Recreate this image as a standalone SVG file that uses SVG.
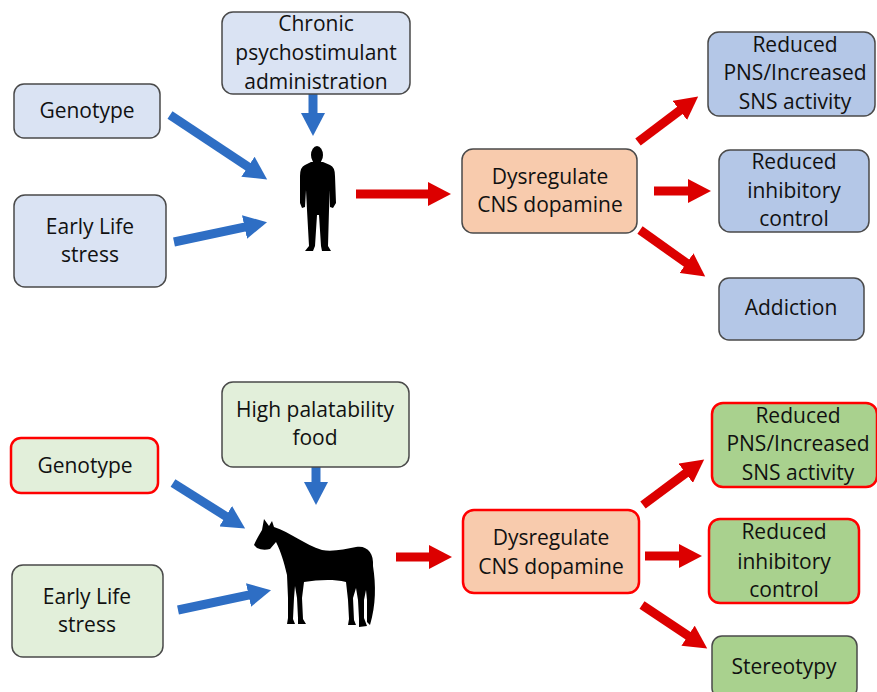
<svg xmlns="http://www.w3.org/2000/svg" width="877" height="692" viewBox="0 0 877 692">
<defs>
<style>
.t{font-family:"Open Sans","Liberation Sans",sans-serif;font-size:21px;fill:#111;text-anchor:middle}
.b{stroke:#4a4a4a;stroke-width:1.5}
.r{stroke:#ff0000;stroke-width:2.5}
.lb{fill:#dae3f3}
.pe{fill:#f8cbad}
.mb{fill:#b4c7e7}
.lg{fill:#e2efda}
.mg{fill:#a9d18e}
.ab{stroke:#2e6ec4;stroke-width:9;fill:none;marker-end:url(#hb)}
.ar{stroke:#dc0000;stroke-width:9;fill:none;marker-end:url(#hr)}
</style>
<marker id="hb" markerUnits="userSpaceOnUse" markerWidth="24" markerHeight="24" refX="1" refY="12" orient="auto"><path d="M0,0 L23,12 L0,24 Z" fill="#2e6ec4"/></marker>
<marker id="hr" markerUnits="userSpaceOnUse" markerWidth="24" markerHeight="24" refX="1" refY="12" orient="auto"><path d="M0,0 L23,12 L0,24 Z" fill="#dc0000"/></marker>
</defs>
<rect width="877" height="692" fill="#fff"/>

<g id="connectors">
<line class="ab" x1="170" y1="115" x2="248.8" y2="167.3"/>
<line class="ab" x1="174" y1="242" x2="245.5" y2="226.8"/>
<line class="ab" x1="313" y1="94" x2="313" y2="114"/>
<line class="ar" x1="356" y1="194" x2="429" y2="194"/>
<line class="ar" x1="638" y1="142" x2="680.6" y2="109.8"/>
<line class="ar" x1="654" y1="191" x2="689" y2="191"/>
<line class="ar" x1="640" y1="230" x2="687.3" y2="263.7"/>
<line class="ab" x1="173" y1="483" x2="226.5" y2="516.7"/>
<line class="ab" x1="178" y1="610" x2="249.5" y2="594.8"/>
<line class="ab" x1="316" y1="466" x2="316" y2="483"/>
<line class="ar" x1="396" y1="557" x2="430" y2="557"/>
<line class="ar" x1="643" y1="505" x2="686.5" y2="472.7"/>
<line class="ar" x1="645" y1="556" x2="680" y2="556"/>
<line class="ar" x1="642" y1="605" x2="688.9" y2="636.2"/>
</g>

<g id="genotype-top"><rect class="lb b" x="14" y="84" width="146" height="54" rx="10"/><text class="t" x="87" y="118">Genotype</text></g>
<g id="earlylife-top"><rect class="lb b" x="14" y="195" width="152" height="92" rx="11"/><text class="t" x="90" y="234">Early Life</text><text class="t" x="90" y="262">stress</text></g>
<g id="chronic"><rect class="lb b" x="222" y="12" width="188" height="82" rx="11"/><text class="t" x="316" y="31">Chronic</text><text class="t" x="316" y="60">psychostimulant</text><text class="t" x="316" y="89">administration</text></g>
<g id="person"><ellipse cx="317" cy="155" rx="6" ry="9" fill="#000"/><path fill="#000" d="M311,162 L323,162 L330,165 Q335,167 335,176 L336,203 L333,208 L330,207 L330,190 L329,210 L328,246 L331,251 L322,251 L321,246 L319,215 L317,215 L315,246 L313,251 L305,251 L309,246 L307,210 L306,190 L305,207 L302,208 L300,203 L300,176 Q300,167 305,165 Z"/></g>
<g id="dys-top"><rect class="pe b" x="462" y="149" width="175" height="84" rx="11"/><text class="t" x="550" y="184">Dysregulate</text><text class="t" x="550" y="212">CNS dopamine</text></g>
<g id="pns-top"><rect class="mb b" x="708" y="32" width="167" height="84" rx="11"/><text class="t" x="795" y="52">Reduced</text><text class="t" x="795" y="80">PNS/Increased</text><text class="t" x="795" y="109">SNS activity</text></g>
<g id="inhib-top"><rect class="mb b" x="719" y="150" width="150" height="82" rx="11"/><text class="t" x="794" y="169">Reduced</text><text class="t" x="794" y="198">inhibitory</text><text class="t" x="794" y="226">control</text></g>
<g id="addiction"><rect class="mb b" x="719" y="278" width="145" height="62" rx="10"/><text class="t" x="791" y="315">Addiction</text></g>

<g id="genotype-bottom"><rect class="lg r" x="11" y="438" width="147" height="55" rx="10"/><text class="t" x="85" y="473">Genotype</text></g>
<g id="earlylife-bottom"><rect class="lg b" x="12" y="565" width="151" height="92" rx="11"/><text class="t" x="87" y="604">Early Life</text><text class="t" x="87" y="632">stress</text></g>
<g id="food"><rect class="lg b" x="222" y="382" width="187" height="85" rx="11"/><text class="t" x="315" y="417">High palatability</text><text class="t" x="315" y="445">food</text></g>
<g id="horse"><path fill="#000" d="M264,519 L269,526 L272,521 L274,527 C290,532 305,545 322,550 C333,552 345,549 356,547 C367,545 374,553 373,566 C376,585 376,605 370,625 L367,622 L367,600 L366,590 L364,600 L364,618 L367,626 L359,627 L359,619 L358,600 L356,588 L353,598 L354,620 L356,625 L348,625 L349,619 L348,600 L346,582 C333,579 318,580 304,582 L302,598 L303,619 L306,624 L298,624 L298,618 L297,598 L295,586 L294,598 L293,619 L295,624 L287,624 L288,618 L288,598 L287,575 C284,562 281,552 276,542 L270,549 Q263,551 257,548 L254,545 Q256,540 262,530 Z"/></g>
<g id="dys-bottom"><rect class="pe r" x="463" y="510" width="176" height="83" rx="11"/><text class="t" x="551" y="545">Dysregulate</text><text class="t" x="551" y="574">CNS dopamine</text></g>
<g id="pns-bottom"><rect class="mg r" x="712" y="403" width="165" height="84" rx="11"/><text class="t" x="798" y="423">Reduced</text><text class="t" x="798" y="451">PNS/Increased</text><text class="t" x="798" y="480">SNS activity</text></g>
<g id="inhib-bottom"><rect class="mg r" x="709" y="519" width="150" height="84" rx="11"/><text class="t" x="784" y="539">Reduced</text><text class="t" x="784" y="569">inhibitory</text><text class="t" x="784" y="597">control</text></g>
<g id="stereotypy"><rect class="mg b" x="712" y="636" width="145" height="62" rx="10"/><text class="t" x="784" y="674">Stereotypy</text></g>
</svg>
